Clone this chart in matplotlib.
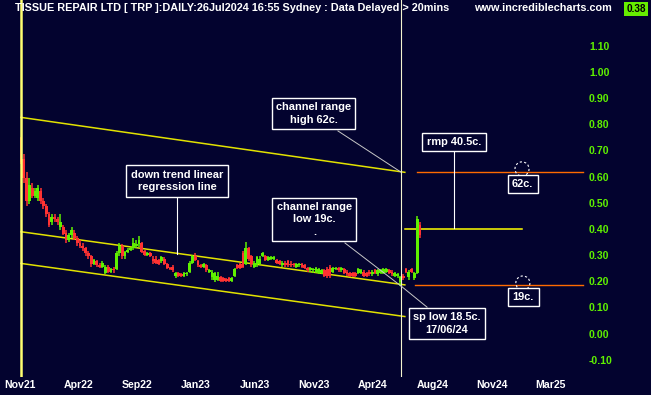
import numpy as np
import matplotlib
matplotlib.use("Agg")
import matplotlib.pyplot as plt
from matplotlib.patches import Rectangle, Ellipse
from matplotlib.collections import PatchCollection, LineCollection
import matplotlib.transforms as mtransforms

# ---------------- data (weekly OHLC) ----------------
opens = [.75, .67, .60, .51, .56, .53, .52, .55, .51, .49, .46, .43, .45, .44, .41, .41, .39, .36, .38, .39,
         .37, .35, .34, .33, .31, .30, .27, .28, .265, .26, .235, .26, .24, .25, .25, .31, .34, .30, .315, .325,
         .33, .34, .345, .35, .32, .305, .31, .29, .29, .285, .28, .29, .27, .255, .26, .225, .235, .23, .225, .23,
         .24, .275, .30, .28, .265, .26, .265, .24, .22, .21, .21, .22, .215, .21, .215, .205, .225, .265, .27, .31,
         .27, .33, .30, .26, .265, .27, .30, .30, .285, .29, .29, .285, .28, .265, .275, .28, .27, .27, .26, .265,
         .27, .265, .255, .245, .245, .24, .235, .235, .245, .25, .26, .24, .25, .255, .245, .25, .24, .235, .235, .235,
         .235, .235, .24, .235, .24, .23, .245, .23, .235, .235, .24, .245, .24, .225, .225, .20, .225, .25, .22, .25,
         .215, .235, .42]
highs = [.755, .69, .62, .60, .58, .56, .57, .56, .52, .50, .47, .46, .46, .45, .46, .42, .40, .39, .41, .40,
         .375, .36, .35, .335, .32, .305, .29, .285, .275, .28, .265, .265, .255, .26, .32, .35, .345, .32, .33, .335,
         .37, .36, .375, .355, .325, .315, .315, .30, .30, .29, .30, .295, .275, .26, .265, .24, .24, .235, .24, .24,
         .28, .305, .31, .285, .27, .275, .27, .25, .245, .24, .24, .225, .22, .215, .22, .22, .255, .27, .275, .32,
         .355, .335, .305, .28, .30, .30, .315, .305, .30, .30, .30, .29, .285, .28, .28, .285, .28, .275, .275, .275,
         .275, .27, .26, .26, .255, .26, .255, .25, .25, .26, .265, .26, .26, .26, .26, .255, .245, .24, .24, .24,
         .255, .25, .245, .24, .245, .245, .25, .25, .25, .255, .255, .25, .245, .24, .235, .225, .23, .255, .245, .255,
         .24, .455, .43]
lows = [.65, .58, .49, .50, .52, .52, .51, .50, .48, .45, .41, .42, .43, .42, .40, .38, .35, .355, .37, .36,
        .34, .33, .32, .30, .29, .26, .265, .26, .255, .255, .23, .235, .235, .235, .245, .30, .29, .29, .31, .32,
        .325, .33, .335, .31, .30, .30, .295, .27, .27, .265, .275, .265, .25, .245, .24, .215, .22, .22, .22, .225,
        .235, .27, .28, .26, .255, .255, .24, .235, .21, .20, .205, .20, .20, .20, .20, .20, .22, .25, .25, .255,
        .265, .28, .26, .255, .26, .265, .295, .28, .28, .285, .285, .27, .265, .26, .26, .26, .26, .26, .255, .26,
        .255, .25, .24, .24, .235, .235, .23, .23, .22, .215, .215, .235, .245, .24, .24, .23, .225, .22, .22, .22,
        .23, .23, .22, .22, .225, .225, .23, .225, .23, .23, .235, .23, .225, .22, .215, .185, .21, .235, .21, .235,
        .21, .23, .37]
closes = [.66, .60, .51, .57, .53, .55, .56, .51, .49, .46, .42, .45, .44, .43, .43, .385, .36, .38, .40, .37,
          .35, .34, .33, .31, .30, .27, .285, .265, .26, .275, .26, .24, .25, .245, .31, .34, .30, .315, .325, .33,
          .35, .345, .36, .315, .305, .31, .30, .28, .275, .27, .295, .27, .255, .25, .245, .235, .225, .225, .235, .235,
          .275, .30, .285, .265, .26, .27, .245, .245, .24, .235, .225, .205, .205, .205, .205, .215, .25, .255, .255, .26,
          .33, .29, .27, .275, .295, .29, .31, .285, .295, .295, .298, .275, .27, .275, .265, .265, .265, .265, .27, .27,
          .26, .255, .245, .255, .25, .255, .25, .245, .225, .225, .225, .255, .255, .245, .255, .235, .23, .225, .225, .225,
          .25, .245, .225, .225, .23, .24, .235, .245, .245, .25, .25, .235, .23, .235, .23, .22, .215, .24, .24, .24,
          .235, .44, .38]

channel_high = [0.83, 0.62]
channel_mid = [0.393, 0.19]
channel_low = [0.272, 0.069]
channel_weeks = [0, 136.6]
sp_low_week = 135.2
rmp_level = 0.405
target_high = 0.62
target_low = 0.19
ytick_vals = [1.10, 1.00, 0.90, 0.80, 0.70, 0.60, 0.50, 0.40, 0.30, 0.20, 0.10, 0.00, -0.10]
xtick_labels = ["Nov21", "Apr22", "Sep22", "Jan23", "Jun23", "Nov23", "Apr24", "Aug24", "Nov24", "Mar25"]
xtick_pos = [-0.4, 20.6, 41.3, 62.3, 83.3, 104.3, 125.3, 146.6, 167.6, 188.3]
last_price = "0.38"

# ---------------- style ----------------
BG = "#03032f"
GREEN = "#5ff000"
RED = "#ff3232"
WHITE = "white"
FONT = ["Liberation Sans", "DejaVu Sans"]
plt.rcParams["font.family"] = FONT

W, H = 651, 395
fig = plt.figure(figsize=(W / 100, H / 100), dpi=100, facecolor=BG)
ax = fig.add_axes([0, 18 / H, 1, 377 / H])
ax.set_facecolor(BG)
for s in ax.spines.values():
    s.set_visible(False)
ax.set_xlim(-7.47, 224.2)
ax.set_ylim(-0.162, 1.2784)
ax.set_yticks([])
ax.set_xticks([])

# candles
n = len(closes)
idx = np.arange(n)
rects, rcols, wicks, wcols = [], [], [], []
for i in idx:
    o, h, l, c = opens[i], highs[i], lows[i], closes[i]
    col = GREEN if c >= o else RED
    lo, hi = min(o, c), max(o, c)
    rects.append(Rectangle((i - 0.5, lo), 1.0, max(hi - lo, 0.006)))
    rcols.append(col)
    wicks.append([(i, l), (i, h)])
    wcols.append(col)
ax.add_collection(LineCollection(wicks, colors=wcols, linewidths=1.1, zorder=3))
ax.add_collection(PatchCollection(rects, facecolors=rcols, edgecolors="none", zorder=4))

# channel lines
for ch in (channel_high, channel_mid, channel_low):
    ax.plot(channel_weeks, ch, color="#e2e200", lw=1.1, zorder=2)

# vertical markers
ax.axvline(0, color="#ffff70", lw=1.8, zorder=5)
ax.axvline(sp_low_week, color="#f4f4d0", lw=0.8, zorder=5)

# horizontal levels
ax.plot([141, 200], [target_high, target_high], color="#ff6a00", lw=1.0, zorder=2)
ax.plot([140.3, 200], [target_low, target_low], color="#ff6a00", lw=1.0, zorder=2)
ax.plot([136.6, 178.3], [rmp_level, rmp_level], color="#ffff00", lw=1.1, zorder=2)

# connectors
conn = "#c8c8c8"
ax.plot([112.8, 135.2], [0.778, 0.621], color=conn, lw=0.7, zorder=6)
ax.plot([55.5, 55.5], [0.522, 0.308], color=WHITE, lw=0.8, zorder=6)
ax.plot([115.3, 135.2], [0.350, 0.186], color=conn, lw=0.7, zorder=6)
ax.plot([144.5, 135.2], [0.105, 0.186], color=conn, lw=0.7, zorder=6)
ax.plot([154.1, 154.1], [0.698, 0.407], color=WHITE, lw=0.8, zorder=6)

# dashed circles
for cx, cy in [(178.3, 0.633), (178.6, 0.197)]:
    ax.add_patch(Ellipse((cx, cy), 5.0, 0.054, fill=False, ec=WHITE, lw=0.8,
                         ls=(0, (2, 2)), zorder=6))

box = dict(boxstyle="square,pad=0.4", fc=BG, ec=WHITE, lw=1.0)
def note(x, y, s, **kw):
    ax.text(x, y, s, color=WHITE, fontsize=7.9, fontweight="bold", ha="center",
            va="center", bbox=box, linespacing=1.3, zorder=8, **kw)

note(104.1, 0.844, "channel range\nhigh 62c.")
note(55.5, 0.587, "down trend linear\nregression line")
note(104.4, 0.440, "channel range\nlow 19c.\n.")
note(154.1, 0.736, "rmp 40.5c.")
note(151.6, 0.042, "sp low 18.5c.\n17/06/24")
note(178.5, 0.575, "62c.")
note(178.8, 0.144, "19c.")

# price labels
tr = mtransforms.blended_transform_factory(ax.transAxes, ax.transData)
for v in ytick_vals:
    ax.text(589 / W, v, f"{v:.2f}", transform=tr, color=GREEN, fontsize=7.6,
            fontweight="bold", ha="left", va="center")

# date labels
for p, lab in zip(xtick_pos, xtick_labels):
    ax.text(p, -0.162, lab, color=WHITE, fontsize=7.6, fontweight="bold",
            ha="center", va="top", transform=mtransforms.offset_copy(
                ax.transData, fig=fig, x=0, y=-3, units="dots"), clip_on=False)

# header
fig.text(15 / W, 1 - 8 / H,
         "TISSUE REPAIR LTD [ TRP ]:DAILY:26Jul2024 16:55 Sydney : Data Delayed > 20mins",
         color=WHITE, fontsize=7.8, fontweight="bold", ha="left", va="center")
fig.text(612 / W, 1 - 8 / H, "www.incrediblecharts.com", color=WHITE, fontsize=7.8,
         fontweight="bold", ha="right", va="center")
fig.text(636 / W, 1 - 8.5 / H, last_price, color="black", fontsize=7.2, fontweight="bold",
         ha="center", va="center",
         bbox=dict(boxstyle="square,pad=0.2", fc="#66ee00", ec="none"))

fig.savefig("out.png", dpi=100, facecolor=BG)
